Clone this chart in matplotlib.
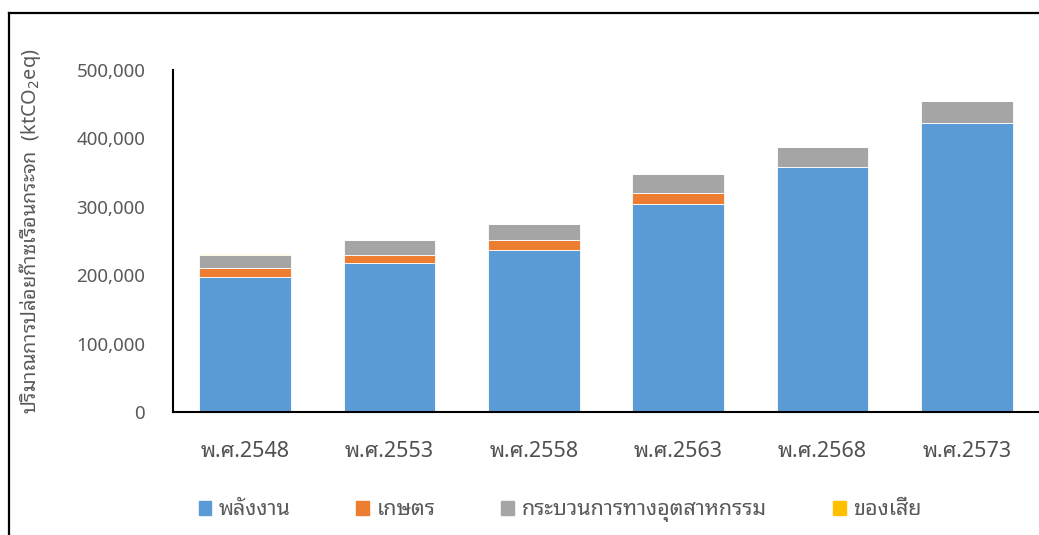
import matplotlib
matplotlib.use("Agg")
import matplotlib.pyplot as plt
import matplotlib.ticker as mticker
import numpy as np
from matplotlib.lines import Line2D

FONT = ['Noto Sans Thai Looped', 'DejaVu Sans']
plt.rcParams['font.family'] = FONT

categories = ['พ.ศ.2548', 'พ.ศ.2553', 'พ.ศ.2558', 'พ.ศ.2563', 'พ.ศ.2568', 'พ.ศ.2573']
series_names = ['พลังงาน', 'เกษตร', 'กระบวนการทางอุตสาหกรรม', 'ของเสีย']
energy = [197800, 217400, 236800, 304500, 358700, 422000]
agriculture = [12600, 12600, 14200, 16100, 0, 0]
industry = [19600, 21900, 23900, 26900, 28700, 32200]
waste = [600, 0, 0, 0, 0, 0]
colors = ['#5B9BD5', '#ED7D31', '#A5A5A5', '#FFC000']

TXT = '#595959'

fig = plt.figure(figsize=(10.39, 5.35), dpi=100)
ax = fig.add_axes([0.1665, 0.2299, 0.8335, 0.8692 - 0.2299])

x = np.arange(len(categories))
bottom = np.zeros(len(categories))
handles = []
for vals, name, c in zip([energy, agriculture, industry, waste], series_names, colors):
    v = np.array(vals, dtype=float)
    ax.bar(x, v, width=0.636, bottom=bottom, color=c, edgecolor='white', linewidth=0.6, zorder=2)
    bottom += v
    handles.append(plt.Rectangle((0, 0), 1, 1, color=c))

ax.set_xlim(-0.5, len(categories) - 0.5)
ax.set_ylim(0, 500000)
ax.yaxis.set_major_locator(mticker.MultipleLocator(100000))
ax.yaxis.set_major_formatter(mticker.FuncFormatter(lambda v, p: f'{int(v):,}'))
ax.set_xticks(x)
ax.set_xticklabels(categories)
ax.tick_params(axis='both', length=0, colors=TXT)
ax.tick_params(axis='y', pad=20, labelsize=13.5)
ax.tick_params(axis='x', pad=21, labelsize=15.5)
for lab in ax.get_xticklabels():
    lab.set_color('#505050')

for s in ['top', 'right']:
    ax.spines[s].set_visible(False)
for s in ['left', 'bottom']:
    ax.spines[s].set_color('black')
    ax.spines[s].set_linewidth(1.5)
    ax.spines[s].set_zorder(3)

fig.text(0.029, 0.568, 'ปริมาณการปล่อยก๊าซเรือนกระจก  (ktCO$_2$eq)', rotation=90,
         ha='center', va='center', fontsize=14.3, color=TXT)

fig.legend(handles, series_names, loc='center', bbox_to_anchor=(0.539, 0.045), ncol=4,
           frameon=False, fontsize=15.5, labelcolor=TXT, handlelength=0.6, handleheight=0.6,
           handletextpad=0.35, columnspacing=3.05)

# outer frame lines
fig.add_artist(Line2D([8.5 / 1039, 8.5 / 1039], [0, 1 - 13 / 535], transform=fig.transFigure,
                      color='black', linewidth=1.6))
fig.add_artist(Line2D([8.5 / 1039, 1], [1 - 13 / 535, 1 - 13 / 535], transform=fig.transFigure,
                      color='black', linewidth=1.6))

fig.savefig('out.png', dpi=100)
